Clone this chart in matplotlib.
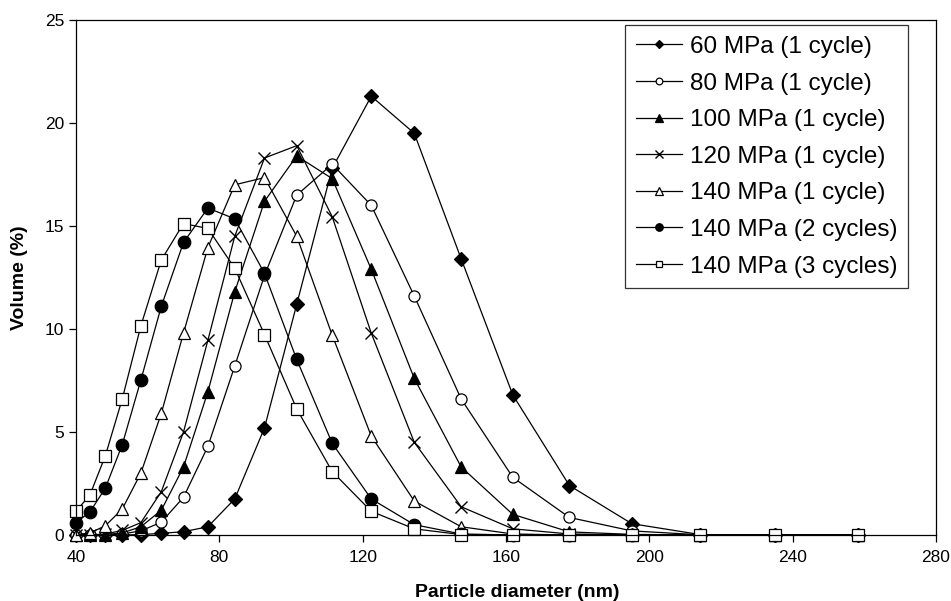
import matplotlib
matplotlib.use("Agg")
from matplotlib import pyplot as plt

plt.rcParams['font.family'] = ['Liberation Sans', 'DejaVu Sans']

# particle size classes (nm)
diameter = [40.0, 43.9, 48.2, 52.9, 58.1, 63.8, 70.0, 76.8, 84.3, 92.6, 101.6,
            111.5, 122.4, 134.4, 147.5, 161.9, 177.7, 195.1, 214.2, 235.1, 258.1]

mpa60_1 = [0, 0, 0, 0, 0.02, 0.08, 0.16, 0.4, 1.75, 5.2, 11.2,
           17.8, 21.3, 19.5, 13.4, 6.8, 2.4, 0.55, 0.02, 0, 0]
mpa80_1 = [0, 0, 0, 0.05, 0.2, 0.62, 1.83, 4.3, 8.2, 12.6, 16.5,
           18.0, 16.0, 11.6, 6.6, 2.8, 0.85, 0.2, 0.01, 0, 0]
mpa100_1 = [0, 0, 0.02, 0.1, 0.4, 1.2, 3.3, 6.95, 11.8, 16.2, 18.4,
            17.3, 12.9, 7.6, 3.3, 1.0, 0.15, 0.03, 0, 0, 0]
mpa120_1 = [0, 0, 0.05, 0.22, 0.6, 2.1, 5.0, 9.45, 14.5, 18.3, 18.9,
            15.45, 9.8, 4.5, 1.37, 0.3, 0.05, 0, 0, 0, 0]
mpa140_1 = [0.02, 0.1, 0.45, 1.26, 3.0, 5.9, 9.8, 13.95, 17.0, 17.35, 14.5,
            9.7, 4.8, 1.65, 0.4, 0.05, 0, 0, 0, 0, 0]
mpa140_2 = [0.6, 1.12, 2.28, 4.38, 7.52, 11.1, 14.2, 15.87, 15.35, 12.7, 8.52,
            4.45, 1.75, 0.5, 0.05, 0, 0, 0, 0, 0, 0]
mpa140_3 = [1.15, 1.95, 3.85, 6.6, 10.15, 13.35, 15.12, 14.88, 12.95, 9.73, 6.12,
            3.08, 1.15, 0.3, 0.02, 0, 0, 0, 0, 0, 0]

labels = ['60 MPa (1 cycle)', '80 MPa (1 cycle)', '100 MPa (1 cycle)',
          '120 MPa (1 cycle)', '140 MPa (1 cycle)', '140 MPa (2 cycles)',
          '140 MPa (3 cycles)']
series = [mpa60_1, mpa80_1, mpa100_1, mpa120_1, mpa140_1, mpa140_2, mpa140_3]

styles = [
    dict(marker='D', markersize=7.5, markerfacecolor='black'),
    dict(marker='o', markersize=8, markerfacecolor='white'),
    dict(marker='^', markersize=9, markerfacecolor='black'),
    dict(marker='x', markersize=9, markeredgewidth=1.0),
    dict(marker='^', markersize=9, markerfacecolor='white'),
    dict(marker='o', markersize=9, markerfacecolor='black'),
    dict(marker='s', markersize=8, markerfacecolor='white'),
]

fig = plt.figure(figsize=(9.51, 6.01), dpi=100)
ax = fig.add_axes([76 / 951, 1 - 535 / 601, 860 / 951, 515 / 601])

for vals, lab, st in zip(series, labels, styles):
    ax.plot(diameter, vals, color='black', linewidth=0.9,
            markeredgecolor='black', markeredgewidth=st.pop('markeredgewidth', 0.9),
            label=lab, clip_on=False, **st)

ax.set_xlim(40, 280)
ax.set_ylim(0, 25)
ax.set_xticks(range(40, 281, 40))
ax.set_yticks(range(0, 26, 5))
ax.tick_params(direction='out', length=5, width=0.9, labelsize=12.5, colors='black')
ax.tick_params(axis='x', pad=6)
for sp in ax.spines.values():
    sp.set_linewidth(0.9)
    sp.set_color('black')

ax.set_xlabel('Particle diameter (nm)', fontsize=14, fontweight='bold')
ax.xaxis.set_label_coords(0.513, -0.095)
ax.set_ylabel('Volume (%)', fontsize=14, fontweight='bold', labelpad=12)

leg = ax.legend(loc='upper right', bbox_to_anchor=(908 / 951, 1 - 25 / 601),
                bbox_transform=fig.transFigure, fontsize=17.5, frameon=True,
                fancybox=False, edgecolor='black', markerscale=0.6,
                handlelength=1.9, handletextpad=0.3, borderpad=0.45,
                labelspacing=0.6, borderaxespad=0)
leg.get_frame().set_linewidth(0.9)

fig.savefig('out.png', dpi=100)
